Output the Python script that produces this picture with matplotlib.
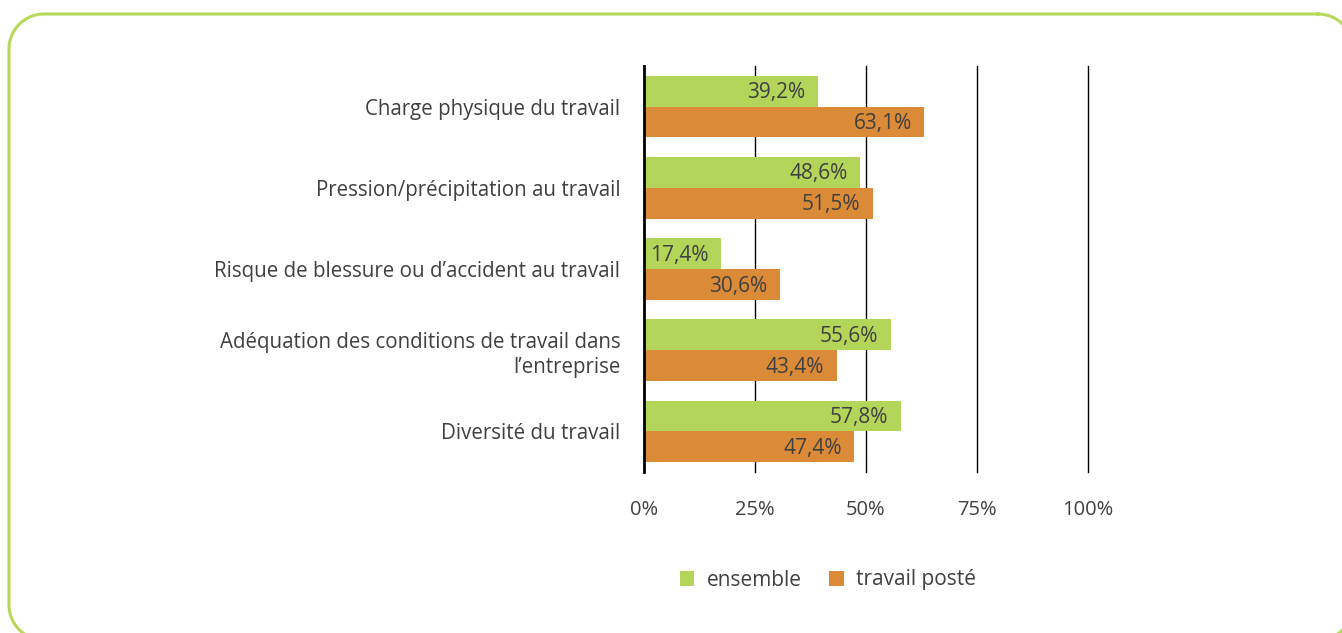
import matplotlib.pyplot as plt
import numpy as np

plt.rcParams['font.family'] = ['Open Sans', 'DejaVu Sans']

categories = ['Charge physique du travail',
              'Pression/précipitation au travail',
              'Risque de blessure ou d\u2019accident au travail',
              'Adéquation des conditions de travail dans\nl\u2019entreprise',
              'Diversité du travail']
ensemble = [39.2, 48.6, 17.4, 55.6, 57.8]
poste = [63.1, 51.5, 30.6, 43.4, 47.4]
ticks = [0, 25, 50, 75, 100]

green = '#b3d55a'
orange = '#db8a38'
txt = '#404040'

fig = plt.figure(figsize=(13.42, 6.33), dpi=100)

# rounded green frame in pixel units (y down), left/top/right/bottom + corner radius
bg = fig.add_axes([0, 0, 1, 1])
bg.set_xlim(0, 1342)
bg.set_ylim(633, 0)
bg.axis('off')
L, T, R, B, r = 9, 14, 1353, 640, 35
corners = [(R - r, T + r, -90, 0), (R - r, B - r, 0, 90),
           (L + r, B - r, 90, 180), (L + r, T + r, 180, 270)]
fx, fy = [], []
for cx, cy, a0, a1 in corners:
    a = np.radians(np.linspace(a0, a1, 30))
    fx.extend(cx + r * np.cos(a))
    fy.extend(cy + r * np.sin(a))
fx.append(fx[0])
fy.append(fy[0])
bg.plot(fx, fy, color='#b5d95a', linewidth=2.2, clip_on=False)

ax = fig.add_axes([644 / 1342, 1 - 472 / 633, (1088 - 644) / 1342, (472 - 66) / 633])

n = len(categories)
y = np.arange(n)
h = 0.38
ax.barh(y - h / 2, ensemble, height=h, color=green, label='ensemble', zorder=3)
ax.barh(y + h / 2, poste, height=h, color=orange, label='travail posté', zorder=3)

for i in range(n):
    ax.text(ensemble[i] - 2.8, y[i] - h / 2 + 0.02, f'{ensemble[i]:.1f}%'.replace('.', ','),
            ha='right', va='center', fontsize=15, color=txt, zorder=4)
    ax.text(poste[i] - 2.8, y[i] + h / 2 + 0.02, f'{poste[i]:.1f}%'.replace('.', ','),
            ha='right', va='center', fontsize=15, color=txt, zorder=4)

ax.set_ylim(n - 0.5, -0.5)
ax.set_xlim(0, 100)
ax.set_yticks(y)
ax.set_yticklabels(categories, fontsize=14.8, color=txt, ha='right', linespacing=1.25)
ax.set_xticks(ticks)
ax.set_xticklabels([f'{t}%' for t in ticks], fontsize=14.5, color=txt)
ax.tick_params(axis='y', length=0, pad=17)
ax.tick_params(axis='x', length=0, pad=20)

for t in ticks[1:]:
    ax.axvline(t, color='black', linewidth=1, zorder=1, clip_on=False)
for s in ['top', 'right', 'bottom']:
    ax.spines[s].set_visible(False)
ax.spines['left'].set_linewidth(2)
ax.spines['left'].set_zorder(5)

leg = fig.legend(loc='center', bbox_to_anchor=(828 / 1342, 1 - 580 / 633), ncol=2,
                 frameon=False, fontsize=15, handlelength=0.7, handleheight=0.7,
                 handletextpad=0.6, columnspacing=1.3)
for t in leg.get_texts():
    t.set_color(txt)

fig.savefig('out.png', dpi=100)
